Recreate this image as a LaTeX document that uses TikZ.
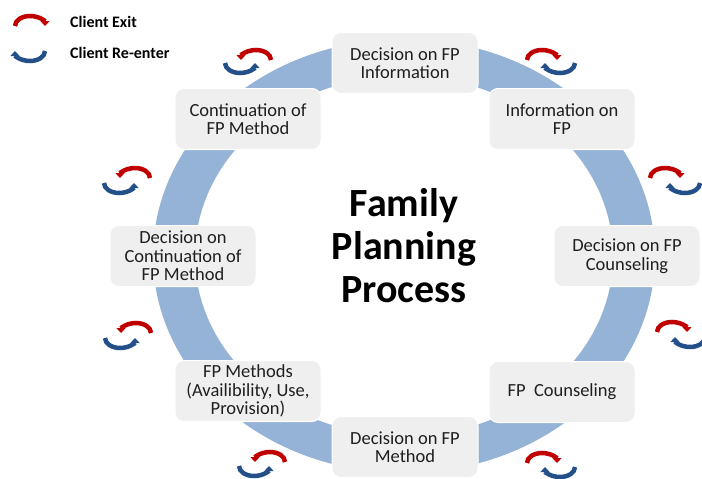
\documentclass[tikz,border=0pt]{standalone}
\usepackage{fontspec}
\setmainfont{Carlito}
\usetikzlibrary{arrows.meta}
\definecolor{ringblue}{HTML}{95B3D7}
\definecolor{boxgray}{HTML}{EFEFEF}
\definecolor{exitred}{HTML}{C00000}
\definecolor{entryblue}{HTML}{24508A}
\begin{document}
\begin{tikzpicture}[x=1pt, y=-1pt,
    stage/.style={rectangle, rounded corners=9pt, fill=boxgray, draw=white, line width=1pt,
      minimum width=146pt, minimum height=61pt, align=center, text=black!88,
      font=\fontsize{18.5}{18.5}\selectfont},
    exitarc/.style={exitred, line width=4.5pt, -{Triangle[width=9pt,length=5pt]}},
    entryarc/.style={entryblue, line width=4.5pt, -{Triangle[width=9pt,length=5pt]}},
    legend/.style={anchor=west, inner sep=0pt, font=\bfseries\fontsize{16}{16}\selectfont}]
  \useasboundingbox (0,0) rectangle (702,479);
  % ring behind the stages
  \fill[ringblue, even odd rule] (404,256) ellipse [x radius=251pt, y radius=217pt]
                                 (404,256) ellipse [x radius=209pt, y radius=180pt];
  % stages
  \node[stage] (decinfo)   at (405, 63) {Decision on FP\\Information};
  \node[stage] (info)      at (562,119) {Information on\\FP};
  \node[stage] (deccouns)  at (627,256) {Decision on FP\\Counseling};
  \node[stage] (couns)     at (562,392) {FP\ \ Counseling};
  \node[stage] (decmethod) at (405,447) {Decision on FP\\Method};
  \node[stage] (methods)   at (248,391) {FP Methods\\(Availibility, Use,\\Provision)};
  \node[stage] (deccont)   at (183,256) {Decision on\\Continuation of\\FP Method};
  \node[stage] (cont)      at (248,119) {Continuation of\\FP Method};
  \node[align=center, font=\bfseries\fontsize{40}{43}\selectfont] (title) at (404,246)
    {Family\\Planning\\Process};
  % legend
  \draw[exitarc]  (15,26) arc [start angle=180, end angle=0, x radius=15pt, y radius=10pt];
  \draw[entryarc] (45,51) arc [start angle=0, end angle=-180, x radius=15pt, y radius=10pt];
  \node[legend] (exitlabel)  at (70,22) {Client Exit};
  \node[legend] (entrylabel) at (70,53) {Client Re-enter};
  % exit / re-enter marks, left side
  \draw[exitarc]  (271, 60) arc [start angle=0, end angle=180, x radius=15pt, y radius=10pt];
  \draw[entryarc] (225, 63) arc [start angle=180, end angle=360, x radius=15pt, y radius=10pt];
  \draw[exitarc]  (150,178) arc [start angle=0, end angle=180, x radius=15pt, y radius=10pt];
  \draw[entryarc] (104,183) arc [start angle=180, end angle=360, x radius=15pt, y radius=10pt];
  \draw[exitarc]  (151,333) arc [start angle=0, end angle=180, x radius=15pt, y radius=10pt];
  \draw[entryarc] (105,338) arc [start angle=180, end angle=360, x radius=15pt, y radius=10pt];
  \draw[exitarc]  (285,462) arc [start angle=0, end angle=180, x radius=15pt, y radius=10pt];
  \draw[entryarc] (239,466) arc [start angle=180, end angle=360, x radius=15pt, y radius=10pt];
  % exit / re-enter marks, right side
  \draw[exitarc]  (527, 60) arc [start angle=180, end angle=0, x radius=15pt, y radius=10pt];
  \draw[entryarc] (575, 63) arc [start angle=0, end angle=-180, x radius=15pt, y radius=10pt];
  \draw[exitarc]  (650,178) arc [start angle=180, end angle=0, x radius=15pt, y radius=10pt];
  \draw[entryarc] (700,183) arc [start angle=0, end angle=-180, x radius=15pt, y radius=10pt];
  \draw[exitarc]  (657,332) arc [start angle=180, end angle=0, x radius=15pt, y radius=10pt];
  \draw[entryarc] (705,337) arc [start angle=0, end angle=-180, x radius=15pt, y radius=10pt];
  \draw[exitarc]  (527,463) arc [start angle=180, end angle=0, x radius=15pt, y radius=10pt];
  \draw[entryarc] (575,467) arc [start angle=0, end angle=-180, x radius=15pt, y radius=10pt];
\end{tikzpicture}
\end{document}
